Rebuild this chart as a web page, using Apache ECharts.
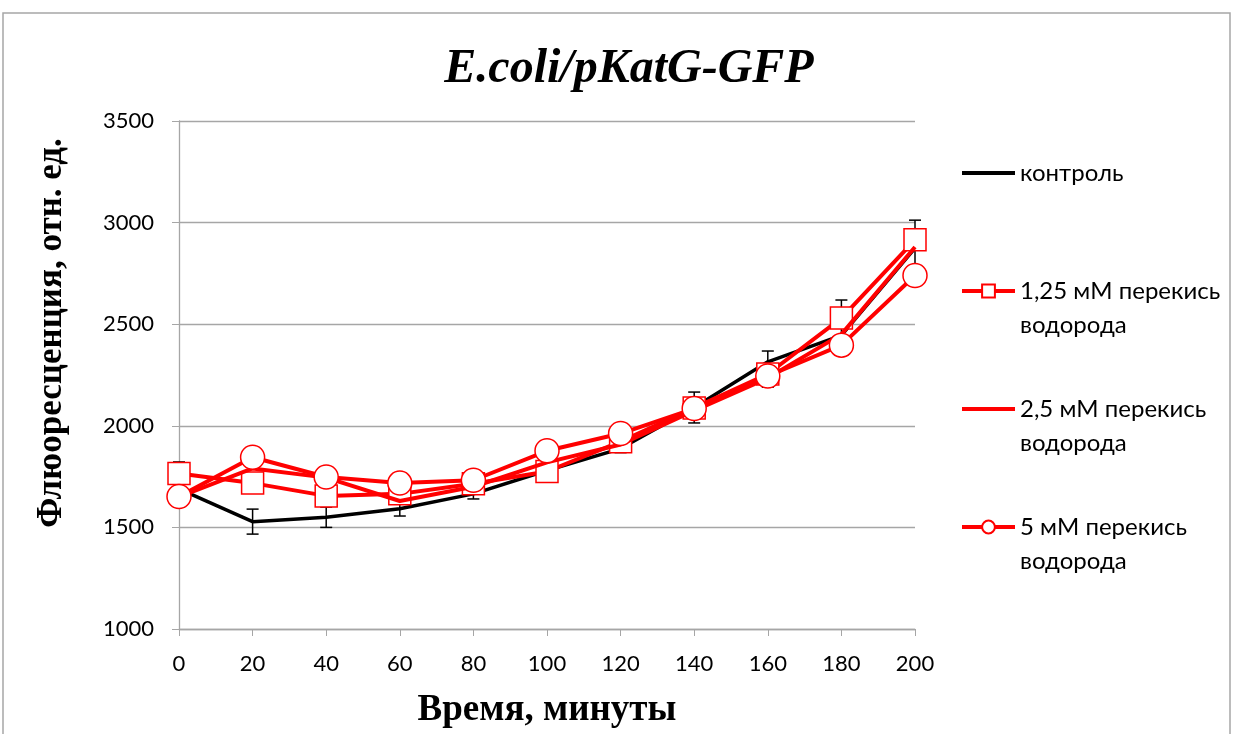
<!DOCTYPE html>
<html>
<head>
<meta charset="utf-8">
<script src="https://cdn.jsdelivr.net/npm/echarts@6/dist/echarts.min.js"></script>
<style>
html, body { margin: 0; padding: 0; background: #fff; }
#chart { width: 1236px; height: 734px; }
</style>
</head>
<body>
<div id="chart"></div>
<script>
var times = [0, 20, 40, 60, 80, 100, 120, 140, 160, 180, 200];
var control = [1690, 1528, 1550, 1592, 1665, 1780, 1888, 2090, 2315, 2445, 2875];
var h125 = [1765, 1718, 1655, 1665, 1715, 1775, 1922, 2088, 2255, 2530, 2915];
var h25 = [1650, 1790, 1745, 1630, 1700, 1820, 1908, 2075, 2235, 2450, 2880];
var h5 = [1652, 1845, 1748, 1718, 1732, 1877, 1962, 2085, 2245, 2397, 2740];
// error bar bounds (as drawn)
var errLow = [1600, 1467, 1500, 1556, 1640, 1745, 1868, 2014, 2190, 2380, 2690];
var errHigh = [1822, 1590, 1600, 1615, 1700, 1905, 1915, 2166, 2368, 2619, 3012];
var names = ['контроль', '1,25 мМ перекись водорода', '2,5 мМ перекись водорода', '5 мМ перекись водорода'];

function pairs(arr) {
    return times.map(function (t, i) { return [t, arr[i]]; });
}

var chart = echarts.init(document.getElementById('chart'));

var sans = 'Lato, "Open Sans", sans-serif';
var serif = '"Liberation Serif", "Times New Roman", serif';
var noSymbol = { opacity: 0 };

chart.setOption({
    animation: false,
    graphic: [{
        type: 'rect',
        shape: { x: 3, y: 13, width: 1227, height: 740 },
        style: { fill: 'none', stroke: '#a6a6a6', lineWidth: 1.5 },
        silent: true
    }],
    title: {
        text: 'E.coli/pKatG-GFP',
        left: 624,
        textAlign: 'center',
        top: 41,
        textStyle: {
            fontFamily: serif,
            fontStyle: 'italic',
            fontWeight: 'bold',
            fontSize: 48,
            color: '#000'
        }
    },
    legend: {
        orient: 'vertical',
        left: 960,
        top: 122,
        padding: 0,
        itemWidth: 53,
        itemHeight: 16,
        itemGap: 16,
        lineStyle: { width: 4 },
        textStyle: { fontFamily: sans, fontSize: 24, color: '#000', lineHeight: 34 },
        formatter: function (n) {
            if (n === names[0]) return '\u00a0\n' + n + '\n\u00a0';
            return '\u00a0\n' + n.replace(' водорода', '\nводорода');
        },
        data: [
            { name: names[0], itemStyle: noSymbol },
            { name: names[1] },
            { name: names[2], itemStyle: noSymbol },
            { name: names[3] }
        ]
    },
    grid: { left: 179, right: 321, top: 121, bottom: 105 },
    xAxis: {
        type: 'value',
        min: 0,
        max: 200,
        interval: 20,
        name: 'Время, минуты',
        nameLocation: 'middle',
        nameGap: 63,
        nameTextStyle: { fontFamily: serif, fontWeight: 'bold', fontSize: 37, color: '#000' },
        axisLine: { lineStyle: { color: '#a6a6a6', width: 1.3 } },
        axisTick: { show: true, length: 7, lineStyle: { color: '#a6a6a6' } },
        axisLabel: { fontFamily: sans, fontSize: 22, color: '#000', margin: 24 },
        splitLine: { show: false }
    },
    yAxis: {
        type: 'value',
        min: 1000,
        max: 3500,
        interval: 500,
        name: 'Флюоресценция, отн. ед.',
        nameLocation: 'middle',
        nameGap: 110,
        nameTextStyle: {
            fontFamily: serif,
            fontWeight: 'bold',
            fontSize: 35,
            color: '#000',
            padding: [0, 0, 0, 84]
        },
        axisLine: { show: true, lineStyle: { color: '#a6a6a6', width: 1.3 } },
        axisTick: { show: true, length: 7, lineStyle: { color: '#a6a6a6' } },
        axisLabel: {
            fontFamily: sans, fontSize: 22, color: '#000', margin: 25,
            formatter: function (v) { return String(v); }
        },
        splitLine: { lineStyle: { color: '#a6a6a6', width: 1.3 } }
    },
    series: [
        {
            name: names[0],
            type: 'line',
            data: pairs(control),
            symbol: 'none',
            lineStyle: { color: '#000', width: 3.5 },
            itemStyle: { color: '#000' },
            z: 2
        },
        {
            type: 'custom',
            name: 'err',
            data: times.map(function (t, i) { return [t, errLow[i], errHigh[i]]; }),
            renderItem: function (params, api) {
                var lo = api.coord([api.value(0), api.value(1)]);
                var hi = api.coord([api.value(0), api.value(2)]);
                var w = 6;
                var st = { stroke: '#000', lineWidth: 1.5 };
                return {
                    type: 'group',
                    children: [
                        { type: 'line', shape: { x1: lo[0], y1: lo[1], x2: hi[0], y2: hi[1] }, style: st },
                        { type: 'line', shape: { x1: lo[0] - w, y1: lo[1], x2: lo[0] + w, y2: lo[1] }, style: st },
                        { type: 'line', shape: { x1: hi[0] - w, y1: hi[1], x2: hi[0] + w, y2: hi[1] }, style: st }
                    ]
                };
            },
            z: 1
        },
        {
            name: names[1],
            type: 'line',
            data: pairs(h125),
            symbol: 'rect',
            symbolSize: 22,
            lineStyle: { color: '#ff0000', width: 4 },
            itemStyle: { color: '#fff', borderColor: '#ff0000', borderWidth: 1.5 },
            z: 3
        },
        {
            name: names[2],
            type: 'line',
            data: pairs(h25),
            symbol: 'none',
            lineStyle: { color: '#ff0000', width: 4 },
            itemStyle: { color: '#ff0000' },
            z: 4
        },
        {
            name: names[3],
            type: 'line',
            data: pairs(h5),
            symbol: 'circle',
            symbolSize: 24,
            lineStyle: { color: '#ff0000', width: 4 },
            itemStyle: { color: '#fff', borderColor: '#ff0000', borderWidth: 1.5 },
            z: 5
        }
    ]
});
</script>
</body>
</html>
